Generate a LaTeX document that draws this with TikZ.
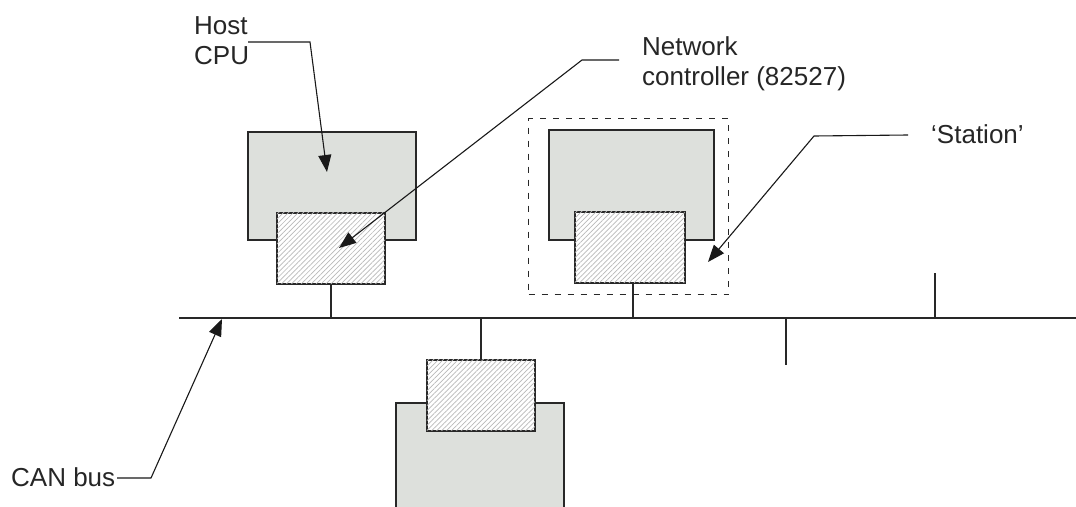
\documentclass[tikz,border=0pt]{standalone}
\usepackage{fontspec}
\setmainfont{Liberation Sans}
\usetikzlibrary{arrows.meta,patterns.meta}
\definecolor{hostfill}{RGB}{221,224,220}
\definecolor{edge}{RGB}{40,40,40}
\definecolor{hatch}{RGB}{185,185,185}
\begin{document}
\begin{tikzpicture}[x=1pt,y=-1pt,
  hostbox/.style={draw=edge,line width=1.5pt,fill=hostfill,inner sep=0,anchor=north west},
  ctrlbox/.style={draw=edge,line width=1.5pt,fill=white,
    postaction={pattern={Lines[angle=45,distance=3.5pt,line width=0.7pt]},pattern color=hatch},
    inner sep=0,anchor=north west},
  wire/.style={draw=edge,line width=1.5pt},
  leader/.style={draw=black!90,line width=1.1pt,-{Triangle[length=17pt,width=13pt]}},
  lbl/.style={font=\fontsize{26}{30.5}\selectfont,inner sep=0,align=left,text=black!85},
  station/.style={draw=edge,line width=1.4pt,dash pattern=on 6pt off 7pt}]
\clip (0,0) rectangle (1076,506);
\fill[white] (0,0) rectangle (1076,506);

% the bus and its drop points
\coordinate (busL) at (179,318);
\coordinate (busR) at (1076,318);
\draw[wire] (busL) -- (busR);
\coordinate (tapA) at (786,318);
\coordinate (tapAend) at (786,365);
\coordinate (tapB) at (935,318);
\coordinate (tapBend) at (935,273);
\draw[wire] (tapA) -- (tapAend);
\draw[wire] (tapB) -- (tapBend);

% station 1
\node[hostbox,minimum width=168,minimum height=108] (host1) at (247,131) {};
\node[ctrlbox,minimum width=108,minimum height=71] (nc1) at (276,212) {};
\draw[wire] (nc1.south) -- (nc1.south |- busL);

% station 2, inside the dashed outline
\node[station,inner sep=0,anchor=north west,minimum width=200,minimum height=176] (stat) at (528,118) {};
\node[hostbox,minimum width=165,minimum height=110] (host2) at (548,129) {};
\node[ctrlbox,minimum width=110,minimum height=71] (nc2) at (574,211) {};
\coordinate (drop2) at (633,282);
\draw[wire] (drop2) -- (drop2 |- busL);

% station 3, below the bus
\node[hostbox,minimum width=168,minimum height=130] (host3) at (395,402) {};
\node[ctrlbox,minimum width=108,minimum height=71] (nc3) at (426,359) {};
\draw[wire] (nc3.north) -- (nc3.north |- busL);

% labels
\node[lbl,anchor=north west] (lhost) at (194,16) {Host\\CPU};
\node[lbl,anchor=north west] (lnc) at (642,36) {Network\\controller (82527)};
\node[lbl,anchor=north west] (lstat) at (931,124) {‘Station’};
\node[lbl,anchor=north west] (lcan) at (11,467) {CAN bus};

% leader lines
\coordinate (h1) at (248,42);
\coordinate (h2) at (310,42);
\coordinate (hT) at (327,172);
\draw[leader] (h1) -- (h2) -- (hT);

\coordinate (n1) at (619,60);
\coordinate (n2) at (582,60);
\coordinate (nT) at (339,248);
\draw[leader] (n1) -- (n2) -- (nT);

\coordinate (s1) at (908,135);
\coordinate (s2) at (814,136);
\coordinate (sT) at (708,262);
\draw[leader] (s1) -- (s2) -- (sT);

\coordinate (c1) at (117,478);
\coordinate (c2) at (151,478);
\coordinate (cT) at (222,319);
\draw[leader] (c1) -- (c2) -- (cT);
\end{tikzpicture}
\end{document}
